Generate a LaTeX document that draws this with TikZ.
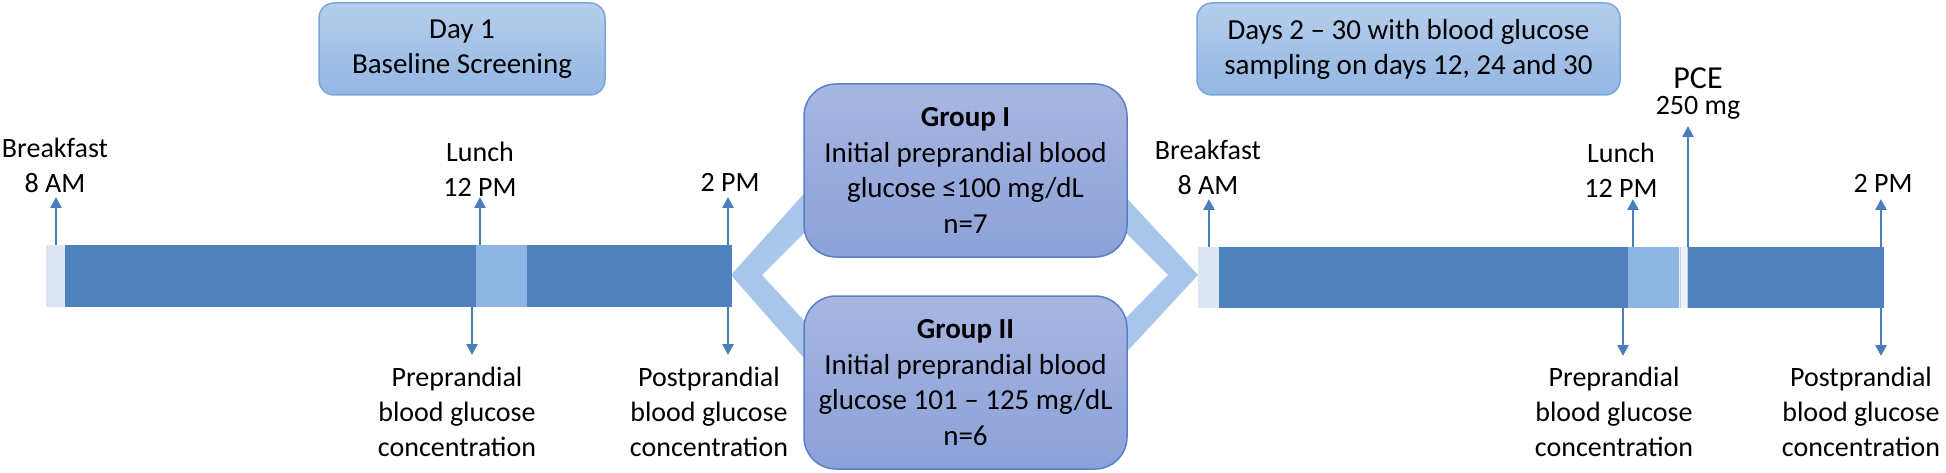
\documentclass[tikz,border=0pt]{standalone}
\usepackage{fontspec}
\setmainfont{Carlito}
\usetikzlibrary{arrows.meta,shadings}
\definecolor{dkblue}{HTML}{4F81BD}
\definecolor{arrblue}{HTML}{4A7EBB}
\definecolor{ltseg}{HTML}{8EB4E3}
\definecolor{pale}{HTML}{DCE6F2}
\definecolor{gapc}{HTML}{EEF3FA}
\definecolor{chev}{HTML}{A8C6EA}
\definecolor{daytop}{HTML}{B6CEEB}
\definecolor{daybot}{HTML}{93B6E3}
\definecolor{dayedge}{HTML}{7AA6DE}
\definecolor{grptop}{HTML}{A8B6E1}
\definecolor{grpbot}{HTML}{8BA1D8}
\definecolor{grpedge}{HTML}{5B7EC8}
\tikzset{
  lbl/.style={font=\fontsize{28}{35}\selectfont, align=center, inner sep=0pt, text=black},
  arr/.style={draw=arrblue, line width=2.6pt, -{Triangle[width=11pt,length=11pt]}},
  daybox/.style={rounded corners=15pt, draw=dayedge, line width=1.5pt,
    top color=daytop, bottom color=daybot, minimum height=92pt,
    align=center, inner sep=0pt, font=\fontsize{29}{35}\selectfont},
  grpbox/.style={rounded corners=32pt, draw=grpedge, line width=1.5pt,
    top color=grptop, bottom color=grpbot, minimum width=323pt, minimum height=173pt,
    align=center, inner sep=0pt, font=\fontsize{29}{35.5}\selectfont},
}
\begin{document}
\begin{tikzpicture}[x=1pt,y=-1pt]
\useasboundingbox (0,0) rectangle (1946,473);
\fill[white] (0,0) rectangle (1946,473);

% chevrons
\fill[chev] (810,187) -- (731,275) -- (810,365) -- (810,327) -- (762,275) -- (810,227) -- cycle;
\fill[chev] (1121,192) -- (1198,275) -- (1121,358) -- (1121,323) -- (1168,275) -- (1121,228) -- cycle;

% top boxes
\node[daybox, minimum width=286pt] (day1) at (462,49) {Day 1\\Baseline Screening};
\node[daybox, minimum width=423pt] (days) at (1408.5,49) {Days 2 -- 30 with blood glucose\\sampling on days 12, 24 and 30};

% group boxes
\node[grpbox] (g1) at (965.5,170.5) {\textbf{Group I}\\Initial preprandial blood\\glucose ≤100 mg/dL\\n=7};
\node[grpbox] (g2) at (965.5,382.5) {\textbf{Group II}\\Initial preprandial blood\\glucose 101 -- 125 mg/dL\\n=6};

% left bar
\fill[pale] (46,245) rectangle (65,307);
\fill[dkblue] (65,245) rectangle (476,307);
\fill[ltseg] (476,245) rectangle (527,307);
\fill[dkblue] (527,245) rectangle (732,307);

% right bar
\fill[pale] (1198,247) rectangle (1219,308);
\fill[dkblue] (1219,247) rectangle (1628,308);
\fill[ltseg] (1628,247) rectangle (1679,308);
\fill[gapc] (1679,247) rectangle (1688,308);
\draw[ltseg!60, line width=0.8pt] (1680,247) -- (1680,308) (1687,247) -- (1687,308);
\fill[dkblue] (1688,247) rectangle (1884,308);

% left labels
\node[lbl] (bk1) at (55,165) {Breakfast\\8 AM};
\node[lbl] (lu1) at (480,169) {Lunch\\12 PM};
\node[lbl] (pm1) at (730,182) {2 PM};
\node[lbl] (pre1) at (457,412) {Preprandial\\blood glucose\\concentration};
\node[lbl] (post1) at (709,412) {Postprandial\\blood glucose\\concentration};

% right labels
\node[lbl] (bk2) at (1208,167) {Breakfast\\8 AM};
\node[lbl] (lu2) at (1621,170) {Lunch\\12 PM};
\node[lbl, font=\fontsize{32}{35}\selectfont] (pce) at (1698,78) {PCE};
\node[lbl] (pced) at (1698,108) {250 mg};
\node[lbl] (pm2) at (1883,183) {2 PM};
\node[lbl] (pre2) at (1614,412) {Preprandial\\blood glucose\\concentration};
\node[lbl] (post2) at (1861,412) {Postprandial\\blood glucose\\concentration};

% arrow coordinates left
\coordinate (a1s) at (56,245);  \coordinate (a1e) at (56,197);
\coordinate (a2s) at (480,245); \coordinate (a2e) at (480,197);
\coordinate (a3s) at (728,245); \coordinate (a3e) at (728,197);
\coordinate (d1s) at (472,307); \coordinate (d1e) at (472,355);
\coordinate (d2s) at (728,307); \coordinate (d2e) at (728,355);
% arrow coordinates right
\coordinate (b1s) at (1209,247); \coordinate (b1e) at (1209,199);
\coordinate (b2s) at (1633,247); \coordinate (b2e) at (1633,199);
\coordinate (b3s) at (1688,247); \coordinate (b3e) at (1688,126);
\coordinate (b4s) at (1881,247); \coordinate (b4e) at (1881,199);
\coordinate (e1s) at (1623,308); \coordinate (e1e) at (1623,356);
\coordinate (e2s) at (1881,308); \coordinate (e2e) at (1881,356);

\foreach \s/\e in {a1s/a1e,a2s/a2e,a3s/a3e,d1s/d1e,d2s/d2e,b1s/b1e,b2s/b2e,b3s/b3e,b4s/b4e,e1s/e1e,e2s/e2e}
  \draw[arr] (\s) -- (\e);
\end{tikzpicture}
\end{document}
